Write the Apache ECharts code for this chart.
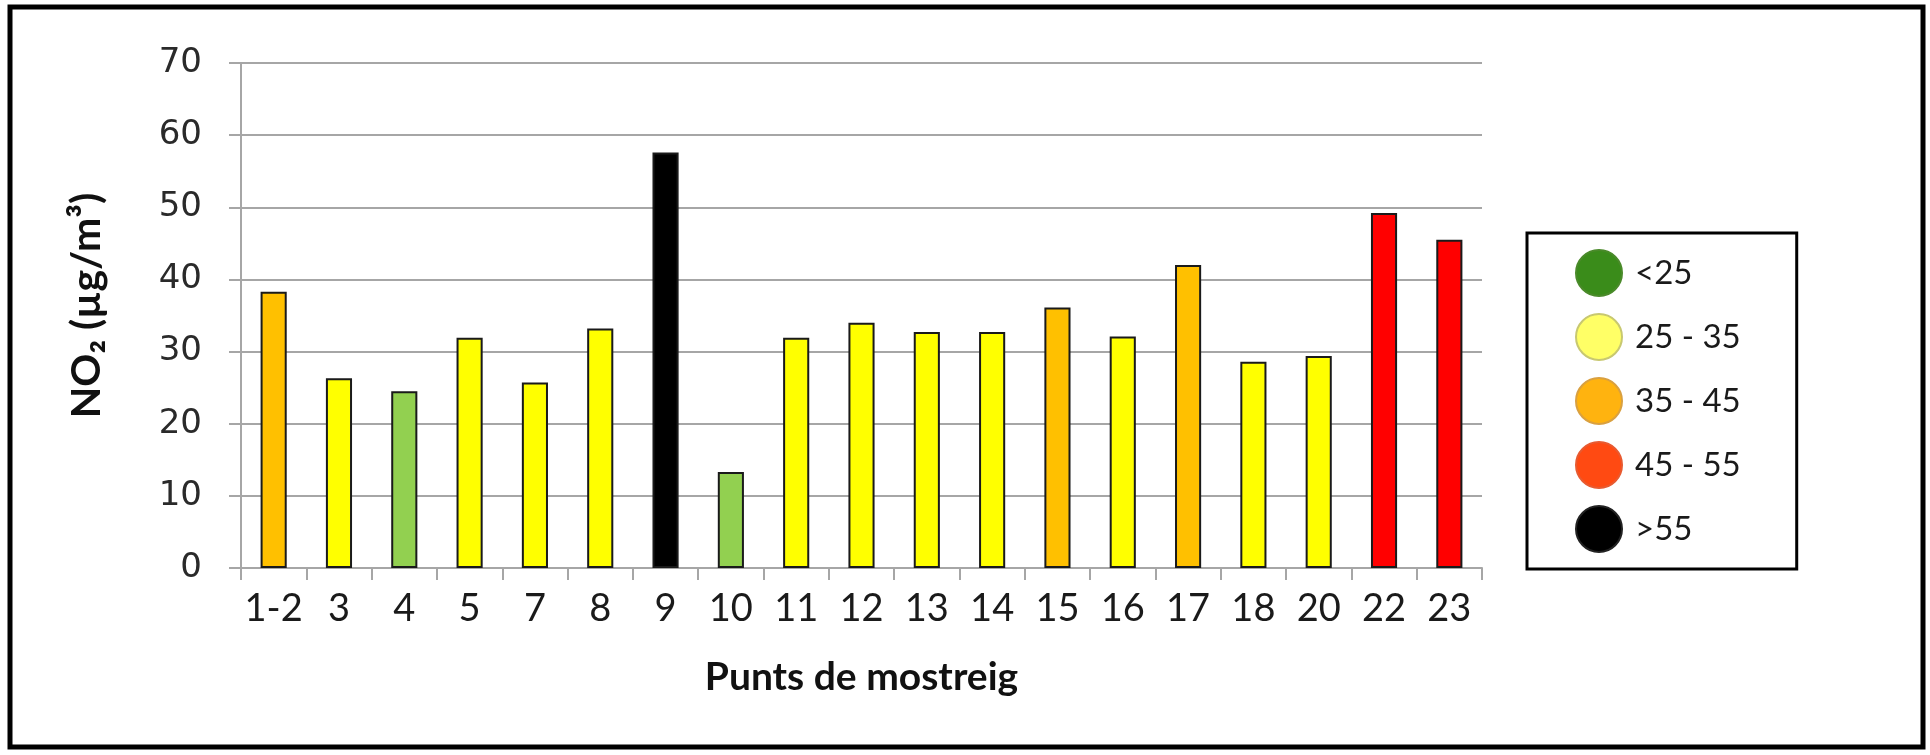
<!DOCTYPE html>
<html lang="ca">
<head>
    <meta charset="utf-8">
    <title>NO2 punts de mostreig</title>
    <script src="https://cdn.jsdelivr.net/npm/echarts@6/dist/echarts.min.js"></script>
    <style>
        html, body { margin: 0; padding: 0; background: #fff; }
        #main { width: 1930px; height: 755px; }
    </style>
</head>
<body>
<div id="main"></div>
<script type="text/javascript">
    // punts de mostreig i concentracions de NO2 (µg/m3), llegits del gràfic
    var punts = ['1-2', '3', '4', '5', '7', '8', '9', '10', '11', '12', '13', '14', '15', '16', '17', '18', '20', '22', '23'];
    var valors = [38.3, 26.3, 24.5, 31.9, 25.7, 33.2, 57.6, 13.3, 31.9, 34.0, 32.7, 32.7, 36.1, 32.1, 42.0, 28.6, 29.4, 49.2, 45.5];
    var yTicks = [0, 10, 20, 30, 40, 50, 60, 70];

    // rangs de la llegenda
    var rangs = ['<25', '25 - 35', '35 - 45', '45 - 55', '>55'];
    var limits = [25, 35, 45, 55];
    var colorsBarra = ['#92D050', '#FFFF00', '#FFC000', '#FF0000', '#000000'];
    var colorsLlegenda = ['#3A8C1A', '#FFFF66', '#FFB30F', '#FF4A12', '#000000'];
    var voresLlegenda = ['#4A8A2A', '#C8C870', '#D9A040', '#E85A30', '#222222'];

    function rang(v) {
        for (var i = 0; i < limits.length; i++) {
            if (v < limits[i]) return i;
        }
        return limits.length;
    }

    var myChart = echarts.init(document.getElementById('main'));

    var series = [{
        name: 'NO2',
        type: 'bar',
        barWidth: '40%',
        data: valors.map(function (v) {
            return {
                value: v,
                itemStyle: {color: colorsBarra[rang(v)]}
            };
        }),
        itemStyle: {borderColor: '#1a1a1a', borderWidth: 2},
        silent: true
    }];
    // sèries buides només per a la llegenda
    rangs.forEach(function (r, i) {
        series.push({
            name: r,
            type: 'scatter',
            data: [],
            itemStyle: {color: colorsLlegenda[i], borderColor: voresLlegenda[i], borderWidth: 1, opacity: 1}
        });
    });

    myChart.setOption({
        backgroundColor: '#fff',
        animation: false,
        graphic: [{
            type: 'rect',
            shape: {x: 10, y: 7, width: 1913, height: 740},
            style: {fill: 'none', stroke: '#000', lineWidth: 5},
            z: 100
        }],
        grid: {left: 241, right: 448, top: 63, bottom: 187, containLabel: false},
        legend: {
            orient: 'vertical',
            left: 1527,
            top: 233,
            data: rangs,
            icon: 'circle',
            itemWidth: 46,
            itemHeight: 46,
            itemGap: 16,
            selectedMode: false,
            padding: [16, 56, 16, 48],
            borderColor: '#000',
            borderWidth: 3,
            backgroundColor: '#fff',
            itemStyle: {opacity: 1},
            textStyle: {fontFamily: 'Lato', fontSize: 33, color: '#1a1a1a', padding: [0, 0, 0, 8]}
        },
        xAxis: {
            type: 'category',
            data: punts,
            name: 'Punts de mostreig',
            nameLocation: 'middle',
            nameGap: 90,
            nameTextStyle: {fontFamily: 'Lato', fontWeight: 'bold', fontSize: 39, color: '#111'},
            axisLine: {lineStyle: {color: '#A6A6A6', width: 2}},
            axisTick: {show: true, alignWithLabel: false, length: 12, lineStyle: {color: '#A6A6A6', width: 2}},
            axisLabel: {fontFamily: 'Lato', fontSize: 38, color: '#1a1a1a', margin: 22, interval: 0}
        },
        yAxis: {
            type: 'value',
            min: yTicks[0],
            max: yTicks[yTicks.length - 1],
            interval: 10,
            name: 'NO₂ (µg/m³)',
            nameLocation: 'middle',
            nameRotate: 90,
            nameGap: 134,
            nameTextStyle: {fontFamily: 'Lato', fontWeight: 'bold', fontSize: 41, color: '#111', padding: [0, 0, 0, 20]},
            axisLine: {show: true, lineStyle: {color: '#A6A6A6', width: 2}},
            axisTick: {show: true, length: 12, lineStyle: {color: '#A6A6A6', width: 2}},
            splitLine: {lineStyle: {color: '#A6A6A6', width: 2}},
            axisLabel: {fontFamily: 'DejaVu Sans', fontSize: 34, color: '#2a2a2a', margin: 39}
        },
        series: series
    });
</script>
</body>
</html>
